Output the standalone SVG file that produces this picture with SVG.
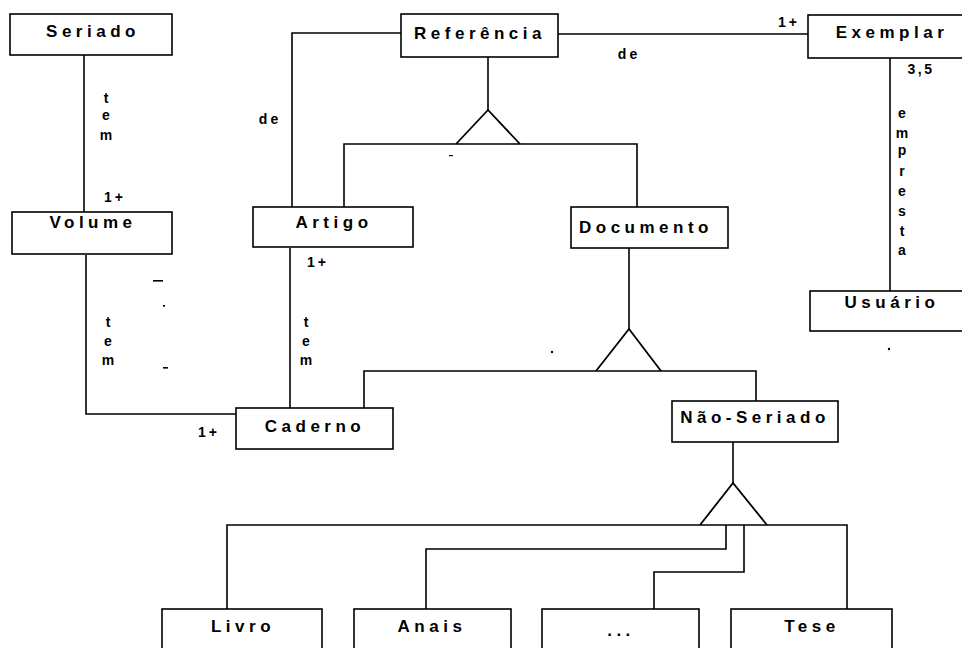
<svg xmlns="http://www.w3.org/2000/svg" width="962" height="648" viewBox="0 0 962 648">
  <style>
    .box { fill: #fff; stroke: #000; stroke-width: 1.6; }
    .name { font-family: "Liberation Sans", Arial, sans-serif; font-weight: bold; font-size: 17px; letter-spacing: 4.5px; text-anchor: middle; fill: #000; }
    .lbl { font-family: "Liberation Sans", Arial, sans-serif; font-weight: bold; font-size: 14px; text-anchor: middle; fill: #000; }
    .wire { fill: none; stroke: #000; stroke-width: 1.6; }
    .isa { fill: none; stroke: #000; stroke-width: 1.8; stroke-linejoin: miter; }
  </style>
  <rect width="962" height="648" fill="#fff"/>

  <!-- connectors -->
  <g id="connectors">
    <path class="wire" d="M84 55 V212"/>
    <path class="wire" d="M401 33 H292 V207"/>
    <path class="wire" d="M558 34 H808"/>
    <path class="wire" d="M890 58 V291"/>
    <path class="wire" d="M86 255 V414 H236"/>
    <path class="wire" d="M290 248 V408"/>
    <!-- Referência specialization -->
    <path class="wire" d="M488 57 V110"/>
    <path class="isa" d="M456 144 L488 110 L520 144"/>
    <path class="wire" d="M344 207 V144 H637 V207"/>
    <!-- Documento specialization -->
    <path class="wire" d="M629 248 V329"/>
    <path class="isa" d="M596 371 L629 329 L661 371"/>
    <path class="wire" d="M364 408 V371 H756 V401"/>
    <!-- Não-Seriado specialization -->
    <path class="wire" d="M733 442 V483"/>
    <path class="isa" d="M700 525 L733 483 L767 525"/>
    <path class="wire" d="M227 609 V525 H847 V609"/>
    <path class="wire" d="M726 525 V549 H426 V609"/>
    <path class="wire" d="M744 525 V572 H654 V609"/>

    <!-- relationship labels -->
    <text class="lbl" x="106" y="103">t</text>
    <text class="lbl" x="106" y="120">e</text>
    <text class="lbl" x="106" y="140">m</text>
    <text class="lbl" x="115" y="202" letter-spacing="3">1+</text>

    <text class="lbl" x="108" y="327">t</text>
    <text class="lbl" x="108" y="346">e</text>
    <text class="lbl" x="108" y="365">m</text>

    <text class="lbl" x="306" y="327">t</text>
    <text class="lbl" x="306" y="346">e</text>
    <text class="lbl" x="306" y="365">m</text>
    <text class="lbl" x="318" y="267" letter-spacing="3">1+</text>

    <text class="lbl" x="209" y="437" letter-spacing="3">1+</text>
    <text class="lbl" x="270" y="124" letter-spacing="3">de</text>
    <text class="lbl" x="629" y="59" letter-spacing="3">de</text>
    <text class="lbl" x="789" y="27" letter-spacing="3">1+</text>
    <text class="lbl" font-size="15" x="921" y="74" letter-spacing="2.5">3,5</text>

    <text class="lbl" x="902" y="118">e</text>
    <text class="lbl" x="902" y="137.5">m</text>
    <text class="lbl" x="902" y="155">p</text>
    <text class="lbl" x="902" y="176">r</text>
    <text class="lbl" x="902" y="196">e</text>
    <text class="lbl" x="902" y="215.5">s</text>
    <text class="lbl" x="902" y="236">t</text>
    <text class="lbl" x="902" y="255">a</text>

    <!-- stray marks -->
    <rect x="153" y="280" width="10" height="1.6"/>
    <rect x="163" y="305" width="2" height="1.6"/>
    <rect x="163" y="367" width="5" height="1.6"/>
    <rect x="449" y="155" width="4" height="1.2"/>
    <circle cx="552" cy="352" r="1.2"/>
    <circle cx="889" cy="349" r="1.2"/>
  </g>

  <g id="seriado">
    <rect class="box" x="10" y="14" width="162" height="41"/>
    <text class="name" x="93" y="37">Seriado</text>
  </g>
  <g id="volume">
    <rect class="box" x="12" y="212" width="160" height="42"/>
    <text class="name" x="93" y="228">Volume</text>
  </g>
  <g id="referencia">
    <rect class="box" x="401" y="14" width="157" height="43"/>
    <text class="name" x="480" y="39">Referência</text>
  </g>
  <g id="exemplar">
    <rect class="box" x="808" y="15" width="170" height="43"/>
    <text class="name" x="892" y="38">Exemplar</text>
  </g>
  <g id="artigo">
    <rect class="box" x="253" y="207" width="160" height="40"/>
    <text class="name" x="334" y="228">Artigo</text>
  </g>
  <g id="documento">
    <rect class="box" x="571" y="207" width="157" height="41"/>
    <text class="name" x="646" y="233">Documento</text>
  </g>
  <g id="usuario">
    <rect class="box" x="810" y="291" width="170" height="40"/>
    <text class="name" x="892" y="308">Usuário</text>
  </g>
  <g id="caderno">
    <rect class="box" x="236" y="408" width="157" height="41"/>
    <text class="name" x="315" y="432">Caderno</text>
  </g>
  <g id="nao-seriado">
    <rect class="box" x="672" y="401" width="166" height="41"/>
    <text class="name" x="755" y="423" letter-spacing="3.5">Não-Seriado</text>
  </g>
  <g id="livro">
    <rect class="box" x="162" y="609" width="160" height="55"/>
    <text class="name" x="243" y="632">Livro</text>
  </g>
  <g id="anais">
    <rect class="box" x="354" y="609" width="157" height="55"/>
    <text class="name" x="432" y="632">Anais</text>
  </g>
  <g id="reticencias">
    <rect class="box" x="542" y="609" width="157" height="55"/>
    <text class="name" x="621" y="636">...</text>
  </g>
  <g id="tese">
    <rect class="box" x="731" y="609" width="161" height="55"/>
    <text class="name" x="812" y="632">Tese</text>
  </g>
</svg>
